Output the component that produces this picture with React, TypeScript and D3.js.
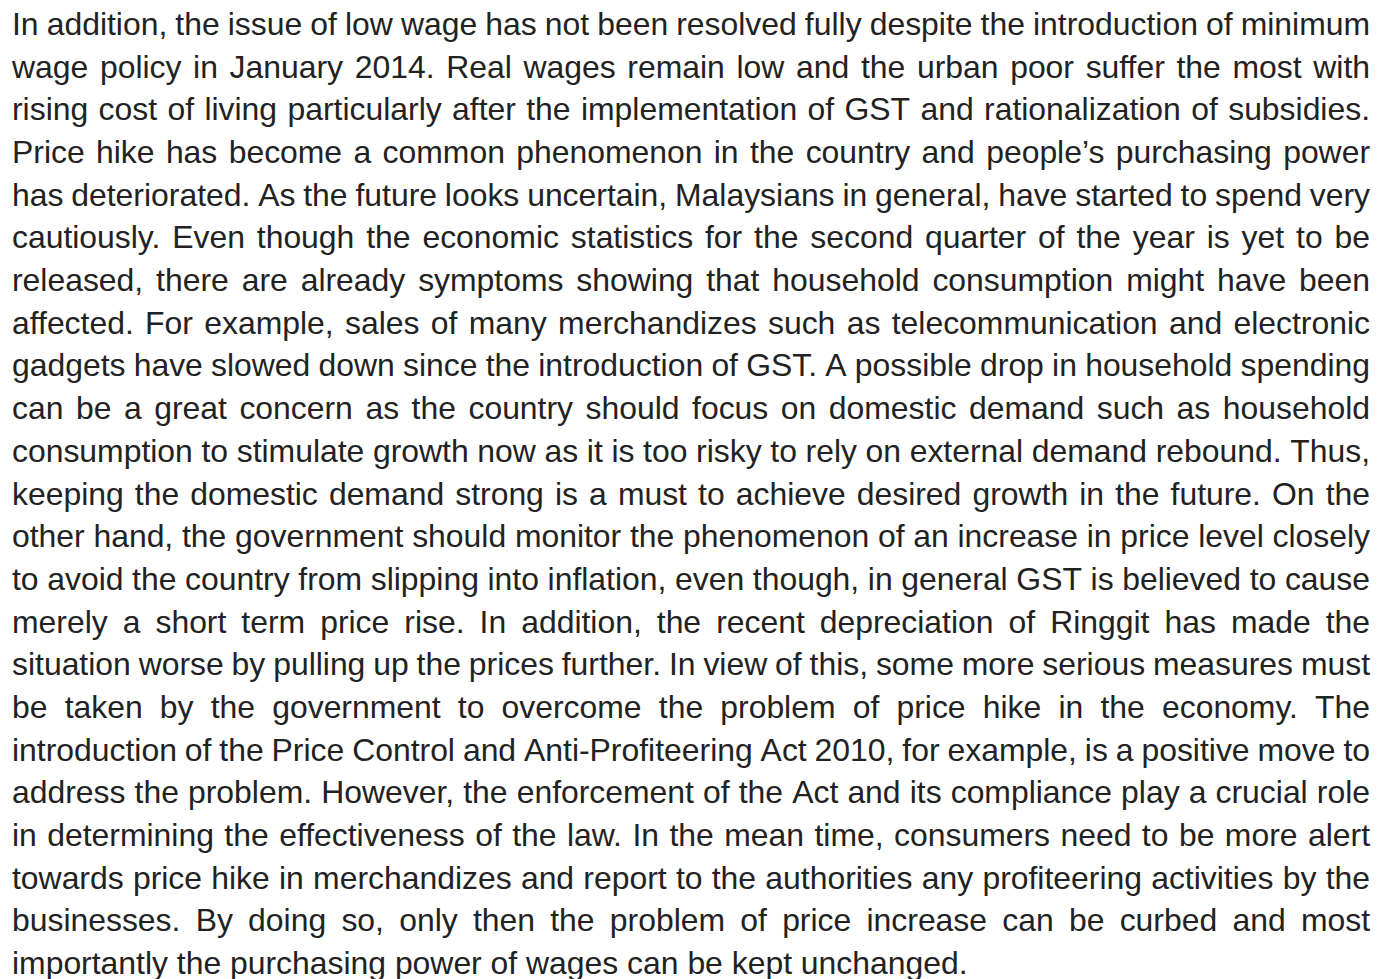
import React, { useMemo } from 'react';
import * as d3 from 'd3';

// paragraph lines, as broken in the reference
const lines = [
  'In addition, the issue of low wage has not been resolved fully despite the introduction of minimum',
  'wage policy in January 2014. Real wages remain low and the urban poor suffer the most with',
  'rising cost of living particularly after the implementation of GST and rationalization of subsidies.',
  'Price hike has become a common phenomenon in the country and people’s purchasing power',
  'has deteriorated. As the future looks uncertain, Malaysians in general, have started to spend very',
  'cautiously. Even though the economic statistics for the second quarter of the year is yet to be',
  'released, there are already symptoms showing that household consumption might have been',
  'affected. For example, sales of many merchandizes such as telecommunication and electronic',
  'gadgets have slowed down since the introduction of GST. A possible drop in household spending',
  'can be a great concern as the country should focus on domestic demand such as household',
  'consumption to stimulate growth now as it is too risky to rely on external demand rebound. Thus,',
  'keeping the domestic demand strong is a must to achieve desired growth in the future. On the',
  'other hand, the government should monitor the phenomenon of an increase in price level closely',
  'to avoid the country from slipping into inflation, even though, in general GST is believed to cause',
  'merely a short term price rise. In addition, the recent depreciation of Ringgit has made the',
  'situation worse by pulling up the prices further. In view of this, some more serious measures must',
  'be taken by the government to overcome the problem of price hike in the economy. The',
  'introduction of the Price Control and Anti-Profiteering Act 2010, for example, is a positive move to',
  'address the problem. However, the enforcement of the Act and its compliance play a crucial role',
  'in determining the effectiveness of the law. In the mean time, consumers need to be more alert',
  'towards price hike in merchandizes and report to the authorities any profiteering activities by the',
  'businesses. By doing so, only then the problem of price increase can be curbed and most',
  'importantly the purchasing power of wages can be kept unchanged.',
];

const width = 1378;
const height = 979;
const left = 12;
const right = 1370;
const lastLineEnd = 968;
const fontFamily = '"Liberation Sans", Arial, Helvetica, sans-serif';

export default function App() {
  const layout = useMemo(() => {
    const ctx = document.createElement('canvas').getContext('2d')!;
    // fit font size so the unjustified last line ends where it does in the picture
    ctx.font = `100px ${fontFamily}`;
    const fontSize = ((lastLineEnd - left) / ctx.measureText(lines[lines.length - 1]).width) * 100;
    ctx.font = `${fontSize}px ${fontFamily}`;
    const spaceW = ctx.measureText(' ').width;

    const y = d3.scalePoint<number>()
      .domain(d3.range(lines.length))
      .range([35, 974]);

    const words = lines.flatMap((line, i) => {
      const parts = line.split(' ');
      const widths = parts.map(p => ctx.measureText(p).width);
      const isLast = i === lines.length - 1;
      const gap = isLast
        ? spaceW
        : (right - left - d3.sum(widths)) / (parts.length - 1);
      let x = left;
      return parts.map((p, j) => {
        const w = { text: p, x, y: y(i)!, key: `${i}-${j}` };
        x += widths[j] + gap;
        return w;
      });
    });
    return { fontSize, words };
  }, []);

  return (
    <svg
      width={width}
      height={height}
      style={{ position: 'absolute', left: 0, top: 0, background: '#fff' }}
    >
      <rect width={width} height={height} fill="#fff" />
      <g fontFamily={fontFamily} fontSize={layout.fontSize} fill="#222">
        {layout.words.map(w => (
          <text key={w.key} x={w.x} y={w.y}>{w.text}</text>
        ))}
      </g>
    </svg>
  );
}
